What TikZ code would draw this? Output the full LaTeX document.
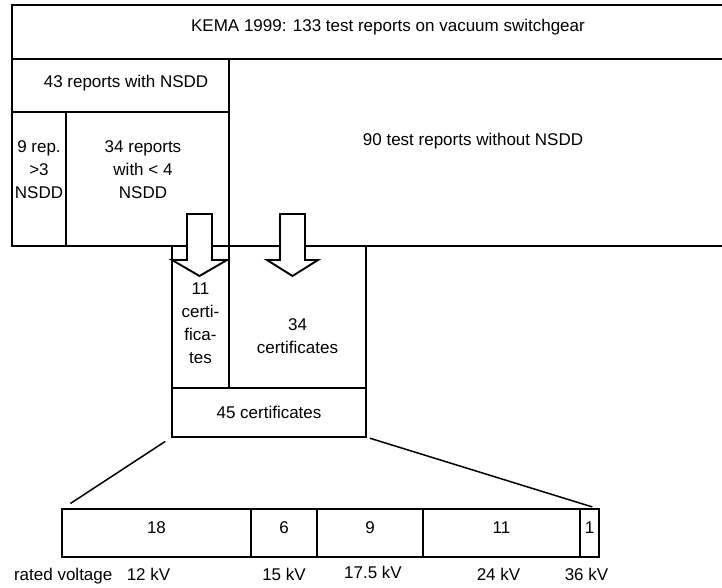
\documentclass[tikz,border=0pt]{standalone}
\usepackage{fontspec}
\setmainfont{Liberation Sans}
\usetikzlibrary{positioning, calc}
\tikzset{
	frame/.style    ={line width=1.9pt, line cap=rect},
	cell/.style     ={rectangle, draw=black, line width=1.9pt, outer sep=0pt, inner sep=0pt, align=center},
	lbl/.style      ={align=center, inner sep=0pt},
	% rated-voltage bar
	seg/.style      ={cell, minimum height=48pt, text height=12pt, text depth=12pt},
	vlab/.style     ={inner sep=0pt},
	blockarr/.style ={draw=black, fill=white, line width=1.9pt, line join=miter},
	fan/.style      ={line width=1.5pt},
}
\begin{document}
\begin{tikzpicture}[x=1pt, y=-1pt, font=\fontsize{17}{23}\selectfont, node distance=0pt]
	\useasboundingbox (0,0) rectangle (722,588);
	% test report frame (open to the right)
	\draw[frame] (722,5) -- (12,5) -- (12,246) -- (722,246);
	\draw[frame] (12,59) -- (722,59);
	\draw[frame] (12,112) -- (229,112);
	\draw[frame] (66,112) -- (66,246);
	\draw[frame] (229,59) -- (229,246);
	\node[lbl] (kema) at (388,27) {KEMA 1999: 133 test reports on vacuum switchgear};
	\node[lbl] (with) at (126,83) {43 reports with NSDD};
	\node[lbl] (without) at (473,141) {90 test reports without NSDD};
	\node[lbl] (nine) at (39,170) {9 rep.\\>3\\NSDD};
	\node[lbl] (few) at (143,170) {34 reports\\with < 4\\NSDD};
	% certificates
	\node[cell, minimum width=57pt, minimum height=142pt, anchor=north west] (c11) at (172,246) {};
	\node[cell, minimum width=137pt, minimum height=142pt, right=of c11] (c34) {};
	\node[cell, minimum width=194pt, minimum height=49pt, anchor=north west] (c45) at (c11.south west) {45 certificates};
	\node[lbl, yshift=-6pt] (t11) at (c11.center) {11\\certi-\\fica-\\tes};
	\node[lbl, yshift=-19pt] (t34) at (c34.center) {34\\certificates};
	\draw[blockarr] (187,214) -- (212,214) -- (212,260) -- (227,260) -- (199.5,276) -- (172,260) -- (187,260) -- cycle;
	\draw[blockarr] (280,214) -- (305,214) -- (305,260) -- (318,260) -- (292.5,276) -- (267,260) -- (280,260) -- cycle;
	% split by rated voltage
	\node[seg, minimum width=189pt, anchor=north west] (v12) at (62,509) {18};
	\node[seg, minimum width=66pt, right=of v12] (v15) {6};
	\node[seg, minimum width=106pt, right=of v15] (v17) {9};
	\node[seg, minimum width=157pt, right=of v17] (v24) {11};
	\node[seg, minimum width=19pt, right=of v24] (v36) {1};
	\draw[fan, shorten <=8pt, shorten >=10pt] (c45.south west) -- (v12.north west);
	\draw[fan, shorten <=4pt, shorten >=7pt] (c45.south east) -- (v36.north east);
	\node[vlab, below=11pt of v12, xshift=-8pt] (k12) {12 kV};
	\node[vlab, below=11pt of v15] (k15) {15 kV};
	\node[vlab, below=9pt of v17, xshift=3pt] (k17) {17.5 kV};
	\node[vlab, below=11pt of v24, xshift=-3pt] (k24) {24 kV};
	\node[vlab, below=11pt of v36, xshift=-3pt] (k36) {36 kV};
	\node[vlab, anchor=base east] (rated) at ([xshift=-14pt]k12.base west) {rated voltage};
\end{tikzpicture}
\end{document}
